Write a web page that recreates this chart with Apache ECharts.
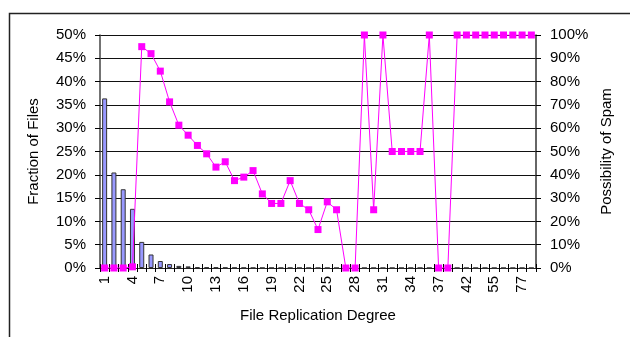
<!DOCTYPE html>
<html>
<head>
<meta charset="utf-8">
<script src="https://cdn.jsdelivr.net/npm/echarts@6/dist/echarts.min.js"></script>
<style>
  html, body { margin: 0; padding: 0; background: #fff; }
  #chart { width: 630px; height: 337px; }
</style>
</head>
<body>
<div id="chart"></div>
<script>
// replication degree categories (x axis)
var degrees = [];
for (var d = 1; d <= 37; d++) degrees.push(String(d));
degrees = degrees.concat(['38', '40', '42', '45', '49', '55', '60', '67', '77', '90']);

// fraction of files, % (bars, left axis)
var fractionFiles = [
    36.4, 20.5, 16.9, 12.7, 5.6, 2.9, 1.5, 0.85, 0.45, 0.35,
    0.2, 0.15, 0.12, 0.08, 0.06, 0.05, 0.04, 0.03, 0.03, 0.02,
    0.02, 0.02, 0.01, 0.01, 0.01, 0.01, 0.01, 0.01, 0.01, 0.01,
    0.01, 0.01, 0.01, 0.01, 0.01, 0.01, 0.01, 0.01, 0.01, 0.01,
    0.01, 0.01, 0.01, 0.01, 0.01, 0.01, 0.01
];

// possibility of spam, % (line, right axis)
var spamProb = [
    0, 0, 0, 0.5, 95, 92, 84.5, 71.3, 61.3, 57,
    52.6, 49, 43.3, 45.6, 37.5, 39, 41.8, 31.8, 27.7, 27.7,
    37.5, 27.7, 25, 16.5, 28.4, 25, 0, 0, 100, 25,
    100, 50, 50, 50, 50, 100, 0, 0, 100, 100,
    100, 100, 100, 100, 100, 100, 100
];

var leftTicks = { min: 0, max: 50, interval: 5 };
var rightTicks = { min: 0, max: 100, interval: 10 };

var font = 'Liberation Sans, Arial, sans-serif';
var chart = echarts.init(document.getElementById('chart'));

var option = {
    backgroundColor: '#fff',
    animation: false,
    textStyle: { fontFamily: font, color: '#000' },
    // 外框
    graphic: [{
        type: 'rect',
        left: 7, top: 11,
        shape: { width: 700, height: 400 },
        style: { fill: 'none', stroke: '#222', lineWidth: 1.5 },
        silent: true
    }],
    grid: { left: 100, right: 94, top: 35, bottom: 69 },
    xAxis: [{
        type: 'category',
        data: degrees,
        position: 'bottom',
        boundaryGap: true,
        name: 'File Replication Degree',
        nameLocation: 'middle',
        nameGap: 40,
        nameTextStyle: { fontSize: 15, fontFamily: font, color: '#000' },
        axisLine: { lineStyle: { color: '#222', width: 1 } },
        axisTick: { show: true, inside: false, length: 4, interval: 0, lineStyle: { color: '#000' } },
        axisLabel: {
            rotate: 90, interval: 2, margin: 8,
            fontSize: 15, fontFamily: font, color: '#000'
        },
        splitLine: { show: false }
    }, {
        // 上半截刻度（交叉刻度）
        type: 'category',
        data: degrees,
        position: 'top',
        offset: -233,
        boundaryGap: true,
        axisLine: { show: false },
        axisTick: { show: true, inside: false, length: 4, interval: 0, lineStyle: { color: '#000' } },
        axisLabel: { show: false },
        splitLine: { show: false }
    }],
    yAxis: [{
        type: 'value',
        position: 'left',
        min: leftTicks.min, max: leftTicks.max, interval: leftTicks.interval,
        name: 'Fraction of Files',
        nameLocation: 'middle',
        nameRotate: 90,
        nameGap: 59,
        nameTextStyle: { fontSize: 15, fontFamily: font, color: '#000' },
        axisLine: { show: true, lineStyle: { color: '#444', width: 1.5 } },
        axisTick: { show: true, length: 5, lineStyle: { color: '#000' } },
        axisLabel: { formatter: '{value}%', fontSize: 15, fontFamily: font, color: '#000', margin: 14 },
        splitLine: { show: true, lineStyle: { color: '#111', width: 1 } }
    }, {
        type: 'value',
        position: 'right',
        min: rightTicks.min, max: rightTicks.max, interval: rightTicks.interval,
        name: 'Possibility of Spam',
        nameLocation: 'middle',
        nameRotate: 90,
        nameGap: 63,
        nameTextStyle: { fontSize: 15, fontFamily: font, color: '#000' },
        axisLine: { show: true, lineStyle: { color: '#333', width: 1.5 } },
        axisTick: { show: true, length: 5, lineStyle: { color: '#000' } },
        axisLabel: { formatter: '{value}%', fontSize: 15, fontFamily: font, color: '#000', margin: 14 },
        splitLine: { show: false }
    }],
    series: [{
        name: 'Fraction of Files',
        type: 'bar',
        xAxisIndex: 0,
        yAxisIndex: 0,
        data: fractionFiles,
        barWidth: 5,
        itemStyle: { color: '#9999FF', borderColor: '#333', borderWidth: 1 },
        z: 2
    }, {
        name: 'Possibility of Spam',
        type: 'line',
        xAxisIndex: 0,
        yAxisIndex: 1,
        data: spamProb,
        symbol: 'rect',
        symbolSize: 7,
        showAllSymbol: true,
        lineStyle: { color: '#FF00FF', width: 1 },
        itemStyle: { color: '#FF00FF' },
        z: 3
    }]
};

chart.setOption(option);
</script>
</body>
</html>
